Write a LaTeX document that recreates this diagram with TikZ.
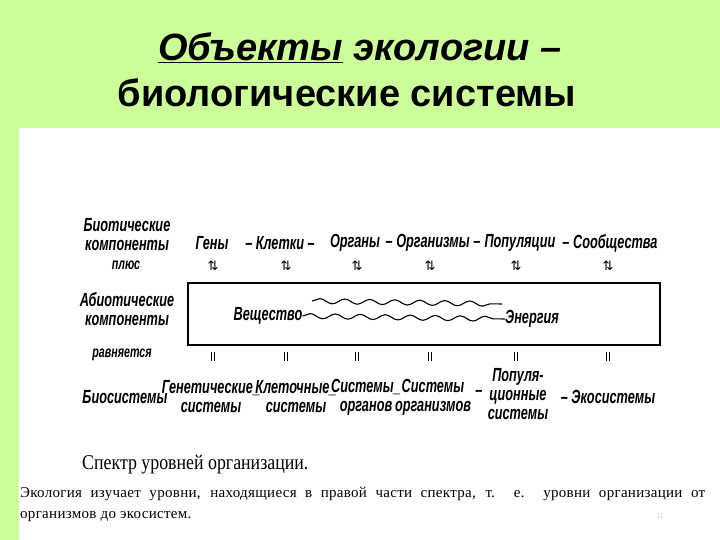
\documentclass[tikz,border=0pt]{standalone}
\usepackage{fontspec}
\setmainfont{Liberation Sans}
\newfontfamily\handfont{Liberation Sans}[FakeStretch=0.67]
\newfontfamily\bookfont{Liberation Serif}[FakeStretch=0.85]
\newfontfamily\typefont{Liberation Serif}[LetterSpace=2]
\newfontfamily\symfont{DejaVu Sans}
\usetikzlibrary{decorations.pathmorphing}
\definecolor{slidegreen}{RGB}{204,255,153}

\tikzset{
  hand/.style={font=\handfont\bfseries\itshape\fontsize{19}{19}\selectfont, inner sep=0pt, align=center},
  small hand/.style={hand, font=\handfont\bfseries\itshape\fontsize{16}{16}\selectfont},
  symmark/.style={font=\symfont\fontsize{13}{13}\selectfont, inner sep=0pt},
  wave/.style={decorate, decoration={snake, segment length=25pt, amplitude=2.5pt}, line width=1.1pt}
}

\begin{document}
\begin{tikzpicture}[x=1pt,y=-1pt]
\useasboundingbox (0,0) rectangle (720,540);
\fill[slidegreen] (0,0) rectangle (720,540);
\fill[white] (19,128) rectangle (720,540);

\node[font=\bfseries\itshape\fontsize{38}{38}\selectfont] (title1) at (360,48) {\underline{Объекты} экологии –};
\node[font=\bfseries\fontsize{38}{38}\selectfont] (title2) at (347,93) {биологические системы};

\node[hand] (biotic) at (127,235) {Биотические\\компоненты};
\node[small hand] (plus) at (126,265) {плюс};
\node[hand] (abiotic) at (127,309) {Абиотические\\компоненты};
\node[small hand] (equals) at (122,355) {равняется};
\node[hand] (biosys) at (125,397) {Биосистемы};

\node[hand] (genes) at (212,243) {Гены};
\node[hand] (cells) at (280,243) {– Клетки –};
\node[hand] (organs) at (355,243) {Органы};
\node[hand] (organisms) at (433,243) {– Организмы –};
\node[hand] (populations) at (520,243) {Популяции};
\node[hand] (communities) at (610,243) {– Сообщества};

\foreach \x in {213,286,357,430,516,608} {
  \node[symmark] at (\x,266) {⇅};
  \draw[line width=0.8pt] (\x-1.5,352) -- (\x-1.5,361) (\x+1.5,352) -- (\x+1.5,361);
}

\draw[line width=1.4pt] (188,283) rectangle (660,345);
\node[hand] (matter) at (268,316) {Вещество};
\node[hand] (energy) at (532,319) {Энергия};
\coordinate (waveA) at (312,301);
\coordinate (waveB) at (502,304);
\draw[wave] (waveA) -- (waveB);
\draw[wave] (matter.east) -- (energy.west);

\node[hand] (gensys) at (211,397) {Генетические\_\\системы};
\node[hand] (cellsys) at (296,397) {Клеточные\_\\системы};
\node[hand] (organsys) at (366,397) {Системы\_\\органов};
\node[hand] (orgsys) at (433,397) {Системы\\организмов};
\node[hand] (dash) at (479,393) {–};
\node[hand] (popsys) at (518,394) {Популя-\\ционные\\системы};
\node[hand] (ecosys) at (608,397) {– Экосистемы};

\node[font=\bookfont\fontsize{21}{21}\selectfont, anchor=west, inner sep=0pt] (caption) at (82,465) {Спектр уровней организации.};
\node[font=\typefont\fontsize{15}{21}\selectfont, text width=685pt, align=justify, anchor=north west, inner sep=0pt] (text) at (20,487)
  {Экология изучает уровни, находящиеся в правой части спектра, т. е. уровни организации от\linebreak организмов до экосистем.};
\node[font=\fontsize{7}{7}\selectfont, text=gray!40] (page) at (660,516) {11};
\end{tikzpicture}
\end{document}
